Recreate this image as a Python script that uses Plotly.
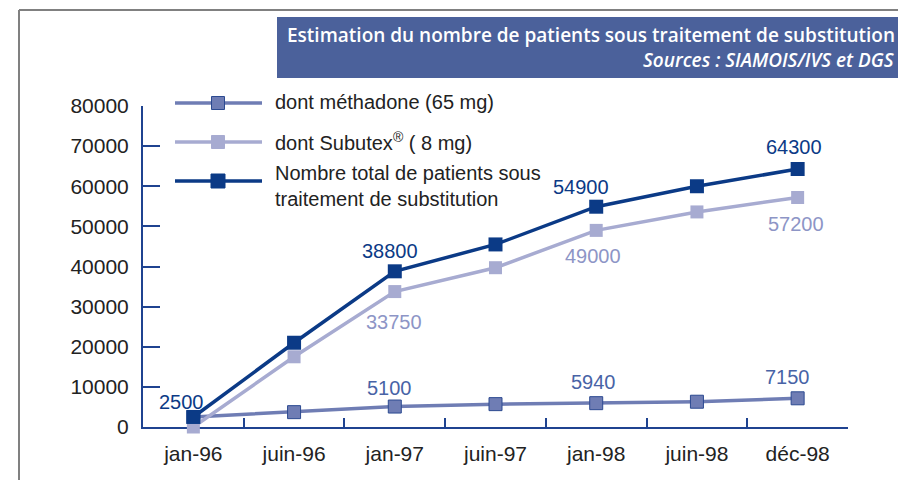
import plotly.graph_objects as go

categories = ["jan-96", "juin-96", "jan-97", "juin-97", "jan-98", "juin-98", "déc-98"]
methadone = [2500, 3700, 5100, 5700, 5940, 6300, 7150]
subutex = [0, 17500, 33750, 39700, 49000, 53600, 57200]
total = [2500, 21000, 38800, 45500, 54900, 60000, 64300]

y_ticks = [0, 10000, 20000, 30000, 40000, 50000, 60000, 70000, 80000]

total_labels = [0, 2, 4, 6]
subutex_labels = [2, 4, 6]
methadone_labels = [2, 4, 6]

series_names = ["dont méthadone (65 mg)", "dont Subutex<sup>®</sup> ( 8 mg)",
                "Nombre total de patients sous<br>traitement de substitution"]

C_TOTAL = "#0b3a86"
C_SUB = "#a7abd1"
C_SUB_TXT = "#8d95c6"
C_METH = "#6f7db4"
C_METH_EDGE = "#2c4a91"
C_METH_TXT = "#4863a6"
C_AXIS = "#1f4390"
FONT = "Liberation Sans, Arial, sans-serif"

OFF = 8  # page body margin
PAGE_W, PAGE_H = 906, 480
W, H = PAGE_W - OFF, PAGE_H - OFF
X0, X1, Y0, Y1 = 143, 848, 106, 427
L, R, T, B = X0 - OFF, OFF + W - X1, Y0 - OFF, OFF + H - Y1
PW, PH = X1 - X0, Y1 - Y0


def px(x):
    return (x - X0) / PW


def py(y):
    return (Y1 - y) / PH


fig = go.Figure()
fig.add_trace(go.Scatter(x=categories, y=methadone, mode="lines+markers", name=series_names[0],
                         line=dict(color=C_METH, width=3.5),
                         marker=dict(symbol="square", size=13, color=C_METH,
                                     line=dict(color=C_METH_EDGE, width=1)),
                         cliponaxis=False, showlegend=False))
fig.add_trace(go.Scatter(x=categories, y=subutex, mode="lines+markers", name=series_names[1],
                         line=dict(color=C_SUB, width=3.5),
                         marker=dict(symbol="square", size=13, color=C_SUB),
                         cliponaxis=False, showlegend=False))
fig.add_trace(go.Scatter(x=categories, y=total, mode="lines+markers", name=series_names[2],
                         line=dict(color=C_TOTAL, width=3.5),
                         marker=dict(symbol="square", size=14, color=C_TOTAL),
                         cliponaxis=False, showlegend=False))

annotations = []
tot_shift = {0: (-12, 15), 2: (-5, 20), 4: (-15, 20), 6: (-4, 22)}
for i in total_labels:
    xs, ys = tot_shift[i]
    annotations.append(dict(x=categories[i], y=total[i], xref="x", yref="y", text=str(total[i]),
                            showarrow=False, xshift=xs, yshift=ys,
                            font=dict(family=FONT, size=20, color=C_TOTAL)))
sub_shift = {2: (-1, -30), 4: (-3, -26), 6: (-2, -27)}
for i in subutex_labels:
    xs, ys = sub_shift[i]
    annotations.append(dict(x=categories[i], y=subutex[i], xref="x", yref="y", text=str(subutex[i]),
                            showarrow=False, xshift=xs, yshift=ys,
                            font=dict(family=FONT, size=20, color=C_SUB_TXT)))
meth_shift = {2: (-5, 19), 4: (-3, 21), 6: (-10, 21)}
for i in methadone_labels:
    xs, ys = meth_shift[i]
    annotations.append(dict(x=categories[i], y=methadone[i], xref="x", yref="y", text=str(methadone[i]),
                            showarrow=False, xshift=xs, yshift=ys,
                            font=dict(family=FONT, size=20, color=C_METH_TXT)))

shapes = []
shapes.append(dict(type="line", xref="paper", yref="paper", x0=px(19), x1=px(912), y0=py(10), y1=py(10),
                   line=dict(color="#808080", width=2)))
shapes.append(dict(type="line", xref="paper", yref="paper", x0=px(19), x1=px(19), y0=py(10), y1=py(485),
                   line=dict(color="#808080", width=2)))
shapes.append(dict(type="rect", xref="paper", yref="paper", x0=px(277), x1=px(912), y0=py(17), y1=py(78),
                   fillcolor="#4b619b", line=dict(width=0)))

leg_rows = [(103, C_METH, C_METH_EDGE, 13), (142, C_SUB, C_SUB, 13), (181, C_TOTAL, C_TOTAL, 14)]
for yy, col, edge, sz in leg_rows:
    shapes.append(dict(type="line", xref="paper", yref="paper", x0=px(175), x1=px(262), y0=py(yy), y1=py(yy),
                       line=dict(color=col, width=3.5)))
    h = sz / 2
    shapes.append(dict(type="rect", xref="paper", yref="paper", x0=px(218 - h), x1=px(218 + h),
                       y0=py(yy - h), y1=py(yy + h), fillcolor=col,
                       line=dict(color=edge, width=1)))
leg_text_y = [102, 141, 186]
for name, yy in zip(series_names, leg_text_y):
    annotations.append(dict(x=px(273), y=py(yy), xref="paper", yref="paper", text=name,
                            showarrow=False, xanchor="left", yanchor="middle", align="left",
                            font=dict(family=FONT, size=20, color="#222222")))

annotations.append(dict(x=px(897), y=py(35), xref="paper", yref="paper",
                        text="Estimation du nombre de patients sous traitement de substitution",
                        showarrow=False, xanchor="right", yanchor="middle",
                        font=dict(family="Open Sans, sans-serif", size=19, color="white", weight=600)))
annotations.append(dict(x=px(897), y=py(60), xref="paper", yref="paper",
                        text="<i>Sources : SIAMOIS/IVS et DGS</i>",
                        showarrow=False, xanchor="right", yanchor="middle",
                        font=dict(family="Open Sans, sans-serif", size=19, color="white", weight=600)))

fig.update_layout(
    width=W, height=H,
    margin=dict(l=L, r=R, t=T, b=B, pad=0),
    paper_bgcolor="white", plot_bgcolor="white",
    shapes=shapes, annotations=annotations,
    showlegend=False,
)
fig.update_xaxes(type="category", range=[-0.5, 6.5], showgrid=False, zeroline=False,
                 showline=True, linecolor=C_AXIS, linewidth=2, layer="below traces",
                 ticks="inside", tickson="boundaries", ticklen=9, tickwidth=2, tickcolor=C_AXIS,
                 ticklabelstandoff=7,
                 tickfont=dict(family=FONT, size=21, color="#222222"))
fig.update_yaxes(range=[0, 80000], tickvals=y_ticks, ticktext=[str(v) for v in y_ticks],
                 showgrid=False, zeroline=False,
                 showline=True, linecolor=C_AXIS, linewidth=2, layer="below traces",
                 ticks="inside", ticklen=17, tickwidth=2, tickcolor=C_AXIS,
                 ticklabelstandoff=8,
                 tickfont=dict(family=FONT, size=21, color="#222222"))

fig.write_html("out.html")
